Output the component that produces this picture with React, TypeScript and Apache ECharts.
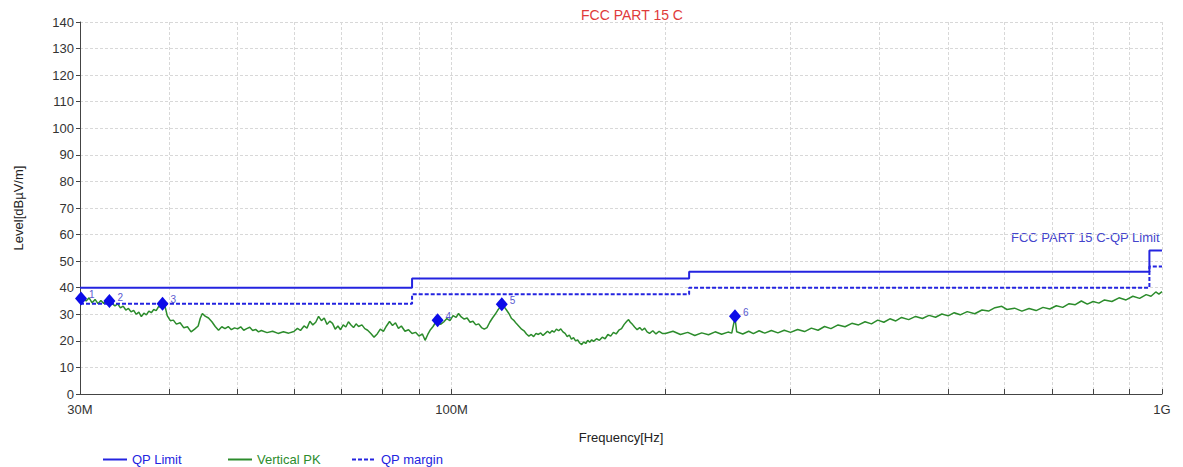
import React, { useEffect, useRef } from "react";
import * as echarts from "echarts";

// ---- Data (frequencies in MHz, levels in dBµV/m) ----
const yTicks = [0, 10, 20, 30, 40, 50, 60, 70, 80, 90, 100, 110, 120, 130, 140];
const xLabelFreqs = [30, 100, 1000];
const xLabelTexts = ["30M", "100M", "1G"];
const xGridFreqs = [40, 50, 60, 70, 80, 90, 100, 200, 300, 400, 500, 600, 700, 800, 900, 1000];

// QP limit (step line)
const qpLimitFreq = [30, 88, 88, 216, 216, 960, 960, 1000];
const qpLimitLevel = [40, 40, 43.5, 43.5, 46, 46, 54, 54];
// QP margin (6 dB below limit)
const qpMarginFreq = [30, 88, 88, 216, 216, 960, 960, 1000];
const qpMarginLevel = [34, 34, 37.5, 37.5, 40, 40, 48, 48];

// Vertical PK trace
const pkFreq = [
  30.0, 30.3, 30.6, 30.9, 31.2, 31.5, 31.8, 32.1, 32.4, 32.7, 33.0, 33.3, 33.6, 33.9, 34.2, 34.5, 34.8, 35.1, 35.4, 35.7,
  36.0, 36.3, 36.6, 36.9, 37.2, 37.5, 37.8, 38.1, 38.4, 38.7, 39.0, 39.2, 39.5, 39.8, 40.2, 40.6, 41.0, 41.5, 42.0, 42.5,
  43.0, 43.5, 44.0, 44.3, 44.6, 45.0, 45.5, 46.0, 46.5, 47.0, 47.5, 48.0, 48.5, 49.0, 49.5, 50.0, 50.5, 51.0, 51.5, 52.0,
  52.5, 53.0, 53.5, 54.0, 55.0, 56.0, 57.0, 58.0, 59.0, 60.0, 60.7, 61.3, 62.0, 62.6, 63.2, 63.8, 64.4, 65.0, 65.6, 66.2,
  66.8, 67.4, 68.0, 68.6, 69.2, 69.8, 70.4, 71.0, 71.6, 72.2, 72.8, 73.4, 74.0, 74.8, 75.5, 76.2, 77.0, 77.8, 78.6, 79.4,
  80.2, 81.0, 81.8, 82.6, 83.4, 84.2, 85.0, 86.0, 87.0, 88.0, 89.0, 90.0, 91.0, 91.8, 92.6, 93.4, 94.2, 95.0, 95.6, 96.5,
  97.5, 98.5, 99.5, 100.5, 101.5, 102.3, 103.2, 104.2, 105.2, 106.2, 107.2, 108.2, 109.2, 110.2, 111.2, 112.2, 113.2, 114.2, 115.2, 116.2,
  117.0, 117.7, 118.5, 119.5, 120.5, 121.5, 122.5, 123.5, 124.5, 125.5, 126.5, 127.5, 128.5, 129.5, 130.5, 131.5, 132.5, 133.5, 134.5, 135.5,
  136.5, 137.5, 138.5, 139.5, 140.5, 141.5, 142.5, 143.5, 144.5, 145.5, 146.5, 147.5, 148.5, 149.5, 150.5, 151.5, 152.5, 153.5, 154.5, 155.5,
  156.5, 157.5, 158.5, 160.0, 161.5, 163.0, 164.5, 166.0, 167.5, 169.0, 170.5, 172.0, 173.5, 175.0, 176.5, 177.5, 178.5, 179.5, 181.0, 182.5,
  184.0, 185.5, 187.0, 188.5, 190.0, 192.0, 194.0, 196.0, 198.0, 200, 205, 210, 215, 220, 225, 230, 235, 240, 245, 248,
  250.6, 252, 257, 262, 266, 271, 276, 282, 288, 294, 300, 307, 314, 321, 328, 335, 342, 350, 358, 366,
  374, 382, 390, 398, 406, 414, 422, 430, 440, 450, 460, 470, 480, 490, 500, 510, 520, 532, 545, 558,
  570, 582, 595, 605, 620, 635, 650, 665, 680, 695, 710, 725, 740, 755, 770, 785, 800, 815, 830, 850,
  870, 890, 910, 930, 950, 965, 980, 990, 1000,
];
const pkLevel = [
  35.9, 36.9, 35.0, 36.2, 34.3, 35.6, 34.0, 35.2, 34.1, 35.3, 35.0, 34.0, 33.2, 33.9, 32.4, 33.1, 31.6, 32.2, 30.9, 31.5,
  30.0, 30.8, 29.1, 30.4, 29.8, 31.2, 30.6, 31.8, 31.4, 32.9, 32.6, 34.0, 33.2, 29.5, 27.6, 27.8, 26.3, 26.8, 24.9, 25.3,
  23.4, 24.4, 25.6, 28.5, 30.3, 29.3, 28.6, 27.2, 25.4, 24.0, 25.3, 24.6, 25.4, 24.2, 24.9, 24.5, 25.3, 24.0, 24.6, 25.1,
  23.9, 24.3, 23.4, 23.9, 23.1, 23.6, 22.8, 23.4, 22.9, 23.5, 24.7, 23.9, 25.6, 24.8, 27.4, 26.0, 27.0, 29.2, 27.6, 28.6,
  26.2, 27.4, 26.6, 24.4, 25.6, 24.2, 26.0, 25.2, 27.2, 26.0, 25.0, 26.4, 25.4, 26.0, 24.6, 24.0, 22.8, 21.4, 22.6, 24.4,
  23.6, 25.6, 27.3, 25.8, 26.8, 24.7, 25.6, 23.6, 24.2, 22.8, 23.2, 21.8, 22.6, 20.2, 22.4, 24.2, 25.4, 27.0, 27.8, 26.2,
  27.1, 28.4, 27.6, 29.5, 28.8, 30.3, 29.0, 28.2, 28.6, 27.0, 27.4, 26.0, 26.4, 25.0, 24.4, 25.0, 27.0, 28.6, 30.0, 31.6,
  32.6, 33.8, 33.0, 31.6, 30.2, 28.4, 27.6, 26.4, 25.4, 24.4, 23.8, 22.6, 21.8, 22.4, 21.6, 22.8, 22.4, 23.0, 22.0, 22.8,
  23.6, 22.9, 23.8, 23.3, 24.4, 23.8, 24.5, 23.4, 22.8, 21.6, 22.2, 20.6, 21.2, 20.0, 20.4, 19.2, 18.6, 19.6, 19.0, 20.2,
  19.5, 20.4, 19.8, 20.8, 20.2, 21.4, 20.8, 22.4, 21.8, 23.2, 22.6, 24.0, 24.6, 26.2, 27.4, 28.0, 27.0, 26.4, 25.2, 24.2,
  25.0, 24.0, 24.8, 23.4, 22.8, 23.8, 22.6, 23.6, 22.8, 22.8, 23.6, 22.4, 23.2, 22.0, 23.0, 22.3, 23.4, 22.5, 23.3, 22.9,
  28.8, 23.4, 22.6, 23.6, 22.7, 23.8, 22.9, 23.9, 23.0, 24.0, 23.2, 24.3, 23.5, 24.8, 24.0, 25.4, 24.6, 26.0, 25.3, 26.6,
  26.0, 27.2, 26.4, 27.8, 27.0, 28.3, 27.5, 28.8, 28.0, 29.2, 28.4, 29.6, 28.9, 30.1, 29.4, 30.6, 29.8, 31.0, 30.2, 31.6,
  31.2, 32.5, 33.0, 31.8, 32.3, 31.2, 32.2, 31.4, 32.6, 32.0, 33.2, 32.6, 34.0, 33.6, 35.0, 33.8, 34.8, 34.2, 35.4, 34.8,
  36.2, 35.4, 36.8, 36.0, 37.4, 36.8, 38.4, 37.6, 38.5,
];

// Peak markers
const markerFreq = [30.1, 33.0, 39.2, 95.6, 117.7, 250.6];
const markerLevel = [35.9, 35.0, 34.0, 27.8, 33.8, 29.3];
const markerLabels = ["1", "2", "3", "4", "5", "6"];

const FONT = "Liberation Sans, Arial, sans-serif";
const BLUE = "#2424e0";
const GREEN = "#2c8c2c";

const lg = (f: number) => Math.log10(f);
const pairs = (fs: number[], ls: number[]) => fs.map((f, i) => [lg(f), ls[i]]);

export default function App() {
  const ref = useRef<HTMLDivElement>(null);
  useEffect(() => {
    if (!ref.current) return;
    const chart = echarts.init(ref.current, undefined, { renderer: "svg" });
    const labelVals = xLabelFreqs.map(lg);
    const fmtX = (v: number) => {
      for (let i = 0; i < labelVals.length; i++) {
        if (Math.abs(v - labelVals[i]) < 1e-6) return xLabelTexts[i];
      }
      return "";
    };
    const legendBase = (left: number, name: string, color: string) => ({
      left,
      top: 448,
      itemWidth: 24,
      itemHeight: 14,
      itemGap: 5,
      data: [name],
      itemStyle: { opacity: 0 },
      textStyle: { color, fontSize: 13, fontFamily: FONT },
      selectedMode: false,
    });
    chart.setOption({
      animation: false,
      backgroundColor: "#ffffff",
      title: {
        text: "FCC PART 15 C",
        left: 627,
        top: 3,
        textAlign: "center",
        textStyle: { color: "#e03a3a", fontSize: 14, fontWeight: "normal", fontFamily: FONT },
      },
      legend: [
        legendBase(97, "QP Limit", BLUE),
        legendBase(222, "Vertical PK", GREEN),
        legendBase(346, "QP margin", BLUE),
      ],
      grid: { left: 80, right: 21, top: 22, height: 372 },
      xAxis: {
        type: "value",
        min: lg(30),
        max: 3,
        name: "Frequency[Hz]",
        nameLocation: "middle",
        nameGap: 37,
        nameTextStyle: { color: "#222", fontSize: 13, fontFamily: FONT },
        axisLine: { show: true, lineStyle: { color: "#444", width: 1 } },
        axisTick: { show: true, inside: true, length: 5, customValues: xGridFreqs.map(lg), lineStyle: { color: "#444" } },
        axisLabel: { customValues: labelVals, formatter: fmtX, color: "#333", fontSize: 13, fontFamily: FONT, margin: 9 },
        splitLine: { show: true, lineStyle: { color: "#d8d8d8", type: [3, 2], width: 1 } },
      },
      yAxis: {
        type: "value",
        min: 0,
        max: 140,
        interval: 10,
        name: "Level[dBµV/m]",
        nameLocation: "middle",
        nameGap: 55,
        nameTextStyle: { color: "#222", fontSize: 13, fontFamily: FONT },
        axisLine: { show: true, lineStyle: { color: "#444", width: 1 } },
        axisTick: { show: true, length: 4, lineStyle: { color: "#444" } },
        axisLabel: {
          color: "#333",
          fontSize: 13,
          fontFamily: FONT,
          margin: 6,
          formatter: (v: number) => (yTicks.indexOf(v) >= 0 ? String(v) : ""),
        },
        splitLine: { show: true, lineStyle: { color: "#d8d8d8", type: [3, 2], width: 1 } },
      },
      graphic: [
        {
          type: "text",
          right: 23,
          top: 231,
          style: { text: "FCC PART 15 C-QP Limit", fill: "#4444cc", fontSize: 13, fontFamily: FONT },
        },
      ],
      series: [
        {
          name: "QP Limit",
          type: "line",
          data: pairs(qpLimitFreq, qpLimitLevel),
          symbol: "none",
          lineStyle: { color: BLUE, width: 2 },
          itemStyle: { color: BLUE },
          z: 3,
        },
        {
          name: "Vertical PK",
          type: "line",
          data: pairs(pkFreq, pkLevel),
          symbol: "none",
          lineStyle: { color: GREEN, width: 1.5 },
          itemStyle: { color: GREEN },
          z: 2,
        },
        {
          name: "QP margin",
          type: "line",
          data: pairs(qpMarginFreq, qpMarginLevel),
          symbol: "none",
          lineStyle: { color: BLUE, width: 2, type: [4, 2] },
          itemStyle: { color: BLUE },
          z: 3,
        },
        {
          name: "Markers",
          type: "scatter",
          data: markerFreq.map((f, i) => ({ value: [lg(f), markerLevel[i]], name: markerLabels[i] })),
          symbol: "diamond",
          symbolSize: [12, 14],
          itemStyle: { color: "#0c0ce8", opacity: 1 },
          label: {
            show: true,
            position: "right",
            offset: [-3, -4],
            formatter: (p: any) => p.name,
            color: "#5a5ad0",
            fontSize: 10,
            fontFamily: FONT,
          },
          z: 5,
        },
      ],
    });
    return () => chart.dispose();
  }, []);
  return <div ref={ref} style={{ position: "fixed", left: 0, top: 0, width: 1183, height: 467, background: "#fff" }} />;
}
